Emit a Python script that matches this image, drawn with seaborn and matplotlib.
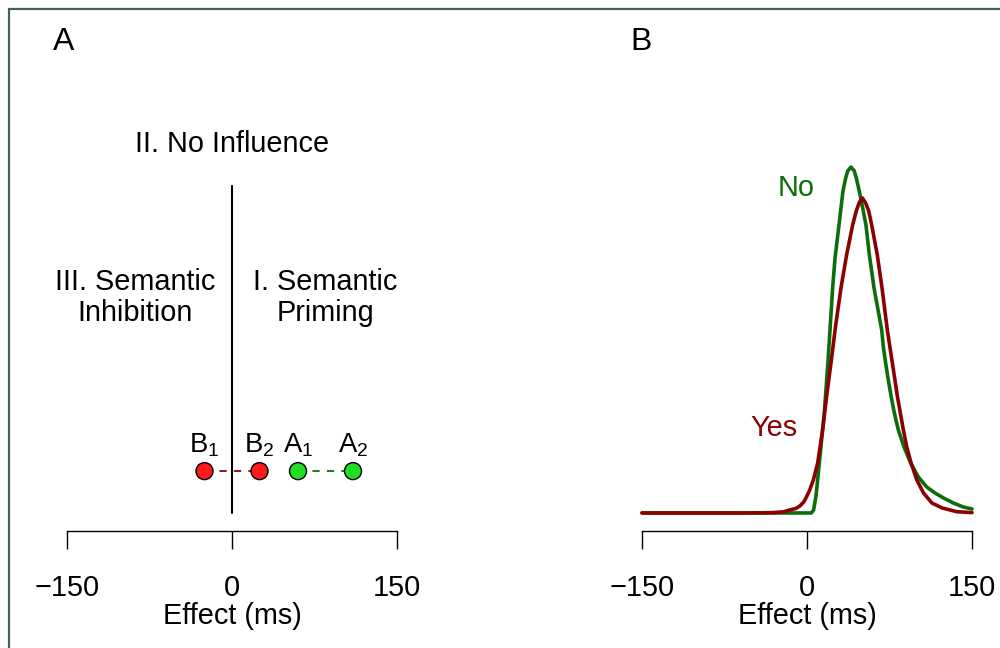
# plot.py
# ─────────────────────────────────────────────
# Two panels: A = schematic of effect regions,
# B = effect distributions for "No" vs "Yes".
# ─────────────────────────────────────────────

import matplotlib
matplotlib.use('Agg')
import matplotlib.pyplot as plt
import matplotlib.patches as mpatches
import seaborn as sns
import pandas as pd

# ── Data ────────────────────────────────────────────────────────────────
tick_values = [-150, 0, 150]
tick_labels = ["\u2212150", "0", "150"]
x_label     = "Effect (ms)"

# panel A: example effects (ms)
point_names  = ["B", "B", "A", "A"]
point_subs   = ["1", "2", "1", "2"]
point_effect = [-25, 25, 60, 110]
region_names = ["II. No Influence", "III. Semantic\nInhibition", "I. Semantic\nPriming"]

# panel B: density curves
no_x  = [-150, -100, -50, 0, 4, 6, 8.2, 11.2, 15.7, 19, 20.9, 23.3, 25.5,
         29.1, 30.9, 32.7, 35.2, 37, 40, 43, 44.8, 47.5, 50.6, 53.6, 56.7,
         60.9, 67.9, 69.4, 71.5, 73.9, 76.4, 79.4, 83, 88.2, 94.2, 101.2,
         108.8, 116.4, 123.9, 133, 142, 150]
no_y  = [0, 0, 0, 0, 0, 0.00017, 0.00094, 0.00275, 0.0055, 0.00825, 0.01007,
         0.01238, 0.01403, 0.01584, 0.01678, 0.01771, 0.01843, 0.01881,
         0.01903, 0.01881, 0.01843, 0.01771, 0.01678, 0.01584, 0.01419,
         0.01238, 0.01007, 0.00913, 0.00825, 0.00732, 0.00644, 0.0055,
         0.00457, 0.00363, 0.00275, 0.00198, 0.00143, 0.0011, 0.00083,
         0.00055, 0.00033, 0.00022]

yes_x = [-150, -100, -60, -40, -30.6, -21.5, -15.5, -10, -6.4, -3, -0.9, 2.5,
         5.8, 9.7, 14.2, 17.9, 21.8, 26, 30.9, 36, 41.5, 44.8, 47.3, 50.3,
         53.3, 56.1, 58.8, 63.9, 68.2, 73, 77.6, 82.1, 87.6, 90.7, 94.6, 99.8,
         105.9, 113.5, 122.6, 136.2, 150]
yes_y = [0, 0, 0, 0.00001, 0.00002, 0.00006, 0.00017, 0.00025, 0.00039,
         0.0006, 0.00083, 0.00127, 0.00182, 0.00275, 0.00457, 0.00644,
         0.00825, 0.01029, 0.01238, 0.01419, 0.01584, 0.01661, 0.01705,
         0.01733, 0.01705, 0.01661, 0.01584, 0.01419, 0.01238, 0.01007,
         0.00825, 0.00644, 0.00457, 0.00363, 0.00275, 0.00182, 0.0011,
         0.00055, 0.00028, 0.00007, 0.00002]

curve_names = ["No", "Yes"]

# ── Style ───────────────────────────────────────────────────────────────
sns.set_theme(style="white")
plt.rcParams['font.family'] = ['Liberation Sans', 'DejaVu Sans']
plt.rcParams['mathtext.fontset'] = 'custom'
plt.rcParams['mathtext.rm'] = 'Liberation Sans'
plt.rcParams['mathtext.it'] = 'Liberation Sans'
plt.rcParams['text.color'] = 'black'
plt.rcParams['axes.labelcolor'] = 'black'
plt.rcParams['xtick.color'] = 'black'

FS       = 20.8
DKGREEN  = "#0b6e0b"
DKRED    = "#8b0000"
LTGREEN  = "#22dd22"
LTRED    = "#ff1a1a"

fig = plt.figure(figsize=(10, 6.48), dpi=100)
axA = fig.add_axes([0.0538, 0.1806, 0.3564, 0.6944])
axB = fig.add_axes([0.6288, 0.1806, 0.3564, 0.6944])

# outer frame (only left/top edges fall inside the image)
fig.patches.append(mpatches.Rectangle((0.009, -0.5), 2, 0.5 + 1 - 0.0139,
                                      transform=fig.transFigure, fill=False,
                                      edgecolor="#3f6262", linewidth=1.6))


def r_axis(ax):
    for s in ['left', 'right', 'top']:
        ax.spines[s].set_visible(False)
    ax.spines['bottom'].set_bounds(-150, 150)
    ax.spines['bottom'].set_color('black')
    ax.spines['bottom'].set_linewidth(1.0)
    ax.set_xlim(-162, 162)
    ax.set_xticks(tick_values)
    ax.set_xticklabels(tick_labels, fontsize=FS)
    ax.tick_params(axis='x', direction='out', length=13, width=1.0,
                   color='black', labelcolor='black', pad=18, bottom=True)
    ax.set_yticks([])
    ax.set_ylabel("")
    ax.patch.set_alpha(0)


# ── Panel A ─────────────────────────────────────────────────────────────
r_axis(axA)
axA.set_ylim(0, 1)
level = 0.133

axA.plot([0, 0], [0.04, 0.767], color='black', linewidth=1.5)
axA.plot(point_effect[:2], [level, level], color=DKRED, linewidth=1.3,
         linestyle=(0, (4, 4)))
axA.plot(point_effect[2:], [level, level], color=DKGREEN, linewidth=1.3,
         linestyle=(0, (4, 4)))

pts = pd.DataFrame({"effect": point_effect, "y": [level] * 4,
                    "grp": ["B", "B", "A", "A"]})
sns.scatterplot(data=pts, x="effect", y="y", hue="grp",
                palette={"B": LTRED, "A": LTGREEN}, s=150,
                edgecolor='black', linewidth=1.0, legend=False, ax=axA,
                zorder=3)

for name, sub, eff in zip(point_names, point_subs, point_effect):
    axA.text(eff, 0.19, rf"$\mathrm{{{name}}}_{{{sub}}}$", ha='center',
             va='center', fontsize=FS - 1)

axA.text(0, 0.86, region_names[0], ha='center', va='center', fontsize=FS)
axA.text(-88, 0.519, region_names[1], ha='center', va='center', fontsize=FS,
         linespacing=1.15)
axA.text(85, 0.519, region_names[2], ha='center', va='center', fontsize=FS,
         linespacing=1.15)
axA.set_xlabel(x_label, fontsize=FS, labelpad=0)

# ── Panel B ─────────────────────────────────────────────────────────────
r_axis(axB)
axB.set_ylim(-0.00099, 0.02376)
sns.lineplot(x=no_x, y=no_y, color=DKGREEN, linewidth=2.6, ax=axB,
             solid_joinstyle='round', solid_capstyle='round')
sns.lineplot(x=yes_x, y=yes_y, color=DKRED, linewidth=2.6, ax=axB,
             solid_joinstyle='round', solid_capstyle='round')
axB.text(-9.5, 0.0179, curve_names[0], color=DKGREEN, ha='center',
         va='center', fontsize=FS)
axB.text(-30, 0.0047, curve_names[1], color=DKRED, ha='center',
         va='center', fontsize=FS)
axB.set_xlabel(x_label, fontsize=FS, labelpad=0)

# ── Panel letters ───────────────────────────────────────────────────────
fig.text(0.064, 1 - 42 / 648, "A", ha='center', va='center', fontsize=23)
fig.text(0.641, 1 - 42 / 648, "B", ha='center', va='center', fontsize=23)

plt.savefig("out.png", dpi=100)
plt.close()
